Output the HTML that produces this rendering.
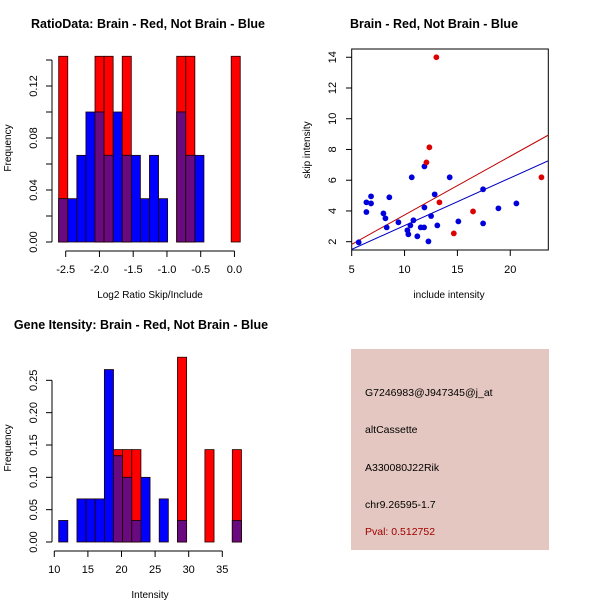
<!DOCTYPE html>
<html><head><meta charset="utf-8"><style>
body{margin:0;background:#fff}
svg{display:block;font-family:"Liberation Sans",sans-serif}
</style></head><body>
<svg id="s" width="600" height="600" xmlns="http://www.w3.org/2000/svg">
<rect width="600" height="600" fill="#fff"/>
<text x="148" y="28" font-size="12.5" font-weight="bold" text-anchor="middle">RatioData: Brain - Red, Not Brain - Blue</text>
<text x="434" y="28" font-size="12.5" font-weight="bold" text-anchor="middle">Brain - Red, Not Brain - Blue</text>
<text x="141" y="329" font-size="12.5" font-weight="bold" text-anchor="middle">Gene Itensity: Brain - Red, Not Brain - Blue</text>
<text x="150" y="298" font-size="10" text-anchor="middle">Log2 Ratio Skip/Include</text>
<text x="11" y="148" font-size="10" text-anchor="middle" transform="rotate(-90 11 148)">Frequency</text>
<text x="449" y="298" font-size="10" text-anchor="middle">include intensity</text>
<text x="310" y="150" font-size="10" text-anchor="middle" transform="rotate(-90 310 150)">skip intensity</text>
<text x="150" y="598" font-size="10" text-anchor="middle">Intensity</text>
<text x="11" y="448" font-size="10" text-anchor="middle" transform="rotate(-90 11 448)">Frequency</text>
<rect x="351" y="349" width="198" height="201" fill="#e4c7c0"/>
<text x="365" y="396" font-size="10.5">G7246983@J947345@j_at</text>
<text x="365" y="433" font-size="10.5">altCassette</text>
<text x="365" y="471" font-size="10.5">A330080J22Rik</text>
<text x="365" y="508" font-size="10.5">chr9.26595-1.7</text>
<text x="365" y="535" font-size="10.5" fill="#a00000">Pval: 0.512752</text>
</svg>
<script>
const ratioBlue=[1,1,2,3,3,2,3,2,2,1,2,1,0,3,2,2,0,0,0,0];
const ratioRed=[1,0,0,0,1,1,0,1,0,0,0,0,0,1,1,0,0,0,0,1];
const ratioXTicks=[-2.5,-2.0,-1.5,-1.0,-0.5,0.0];
const ratioXLabels=["-2.5","-2.0","-1.5","-1.0","-0.5","0.0"];
const ratioYTicks=[0,0.02,0.04,0.06,0.08,0.10,0.12,0.14];
const ratioYLabels=["0.00","","0.04","","0.08","","0.12",""];
const intBlue=[1,0,2,2,2,8,4,3,1,3,0,2,0,1,0,0,0,0,0,1];
const intRed=[0,0,0,0,0,0,1,1,1,0,0,0,0,2,0,0,1,0,0,1];
const intXTicks=[10,15,20,25,30,35];
const intYTicks=[0,0.05,0.10,0.15,0.20,0.25];
const intYLabels=["0.00","0.05","0.10","0.15","0.20","0.25"];
const blueX=[5.66,6.39,6.39,6.83,6.83,8.0,8.19,8.31,8.56,9.42,10.68,10.27,10.36,10.55,10.84,11.21,11.53,11.85,11.88,11.88,12.26,12.51,12.85,13.1,14.27,15.09,17.43,17.43,18.88,20.58];
const blueY=[1.96,3.93,4.56,4.95,4.49,3.84,3.52,2.93,4.89,3.26,6.19,2.74,2.48,3.06,3.39,2.35,2.93,2.93,6.9,4.23,2.02,3.67,5.08,3.06,6.19,3.32,5.41,3.19,4.17,4.49];
const redX=[13.01,12.35,12.07,13.3,14.66,16.48,22.95];
const redY=[14.0,8.14,7.16,4.56,2.54,3.97,6.19];
const fitLines=[{slope:0.382,intercept:-0.08,color:"#c00000",name:"red-fit-line"},{slope:0.31,intercept:-0.05,color:"#0000c0",name:"blue-fit-line"}];
const scXTicks=[5,10,15,20];
const scYTicks=[2,4,6,8,10,12,14];

const NS="http://www.w3.org/2000/svg", s=document.getElementById('s');
function mk(t,a,p){const e=document.createElementNS(NS,t);for(const k in a)e.setAttribute(k,a[k]);(p||s).appendChild(e);return e;}

function hist(cfg){
  const g=mk('g',{});
  
  
  const X=v=>cfg.x0+(v-cfg.d0)*cfg.kx, Y=v=>cfg.base-v*cfg.ky;
  for(let i=0;i<cfg.blue.length;i++){
    const b=cfg.blue[i]/cfg.nb, r=cfg.red[i]/cfg.nr;
    const xl=X(cfg.start+i*cfg.w), xr=X(cfg.start+(i+1)*cfg.w);
    const draw=(h,c,n)=>{if(h<=0)return;const e=mk('rect',{x:xl,y:Y(h),width:xr-xl,height:Y(0)-Y(h),fill:c,stroke:'#200000','stroke-width':0.8},g);
      
      };
    draw(r,'#ff0000','red-bar');draw(b,'#0000ff','blue-bar');draw(Math.min(r,b),'#6a0a80','overlap-bar');
  }
  const xa=mk('g',{},g);
  
  
  mk('line',{x1:X(cfg.xt[0]),x2:X(cfg.xt[cfg.xt.length-1]),y1:cfg.xaxY,y2:cfg.xaxY,stroke:'#000'},xa);
  cfg.xt.forEach((t,i)=>{mk('line',{x1:X(t),x2:X(t),y1:cfg.xaxY,y2:cfg.xaxY+6,stroke:'#000'},xa);
    const tx=mk('text',{x:X(t),y:cfg.xaxY+22,'font-size':11,'text-anchor':'middle'},xa);tx.textContent=cfg.xl[i];});
  const ya=mk('g',{},g);
  
  
  mk('line',{x1:52,x2:52,y1:Y(0),y2:Y(cfg.yt[cfg.yt.length-1]),stroke:'#000'},ya);
  cfg.yt.forEach((t,i)=>{mk('line',{x1:46,x2:52,y1:Y(t),y2:Y(t),stroke:'#000'},ya);
    if(cfg.yl[i]){const tx=mk('text',{x:37,y:Y(t),'font-size':11,'text-anchor':'middle',transform:`rotate(-90 37 ${Y(t)})`},ya);tx.textContent=cfg.yl[i];}});
}
hist({name:'ratio-histogram',blue:ratioBlue,red:ratioRed,nb:30,nr:7,start:-2.604,w:0.1345,x0:65.7,d0:-2.5,kx:67.5,base:242,ky:1300,
  xt:ratioXTicks,xl:ratioXLabels,xaxY:251,yt:ratioYTicks,yl:ratioYLabels});
hist({name:'intensity-histogram',blue:intBlue,red:intRed,nb:30,nr:7,start:10.65,w:1.36,x0:54.3,d0:10,kx:6.72,base:542,ky:646.7,
  xt:intXTicks,xl:intXTicks.map(String),xaxY:551,yt:intYTicks,yl:intYLabels});

const sg=mk('g',{});


const SX=v=>351.7+(v-5)*10.57, SY=v=>241.7-(v-2)*15.37;
const cp=mk('clipPath',{id:'cp'},sg);mk('rect',{x:351.7,y:49,width:196.6,height:201},cp);
mk('rect',{x:351.7,y:49,width:196.6,height:201,fill:'none',stroke:'#000'},sg);
fitLines.forEach(l=>{const x1=3,x2=25;const e=mk('line',{x1:SX(x1),x2:SX(x2),y1:SY(l.slope*x1+l.intercept),y2:SY(l.slope*x2+l.intercept),stroke:l.color,'clip-path':'url(#cp)'},sg);
  
  });
blueX.forEach((x,i)=>{const e=mk('circle',{cx:SX(x),cy:SY(blueY[i]),r:2.9,fill:'#0000dd'},sg);
  
  });
redX.forEach((x,i)=>{const e=mk('circle',{cx:SX(x),cy:SY(redY[i]),r:2.9,fill:'#dd0000'},sg);
  
  });
scXTicks.forEach(t=>{mk('line',{x1:SX(t),x2:SX(t),y1:250,y2:256,stroke:'#000'},sg);
  const tx=mk('text',{x:SX(t),y:273,'font-size':11,'text-anchor':'middle'},sg);tx.textContent=t;});
scYTicks.forEach(t=>{mk('line',{x1:346,x2:351.7,y1:SY(t),y2:SY(t),stroke:'#000'},sg);
  const tx=mk('text',{x:336,y:SY(t),'font-size':11,'text-anchor':'middle',transform:`rotate(-90 336 ${SY(t)})`},sg);tx.textContent=t;});
</script>
</body></html>
